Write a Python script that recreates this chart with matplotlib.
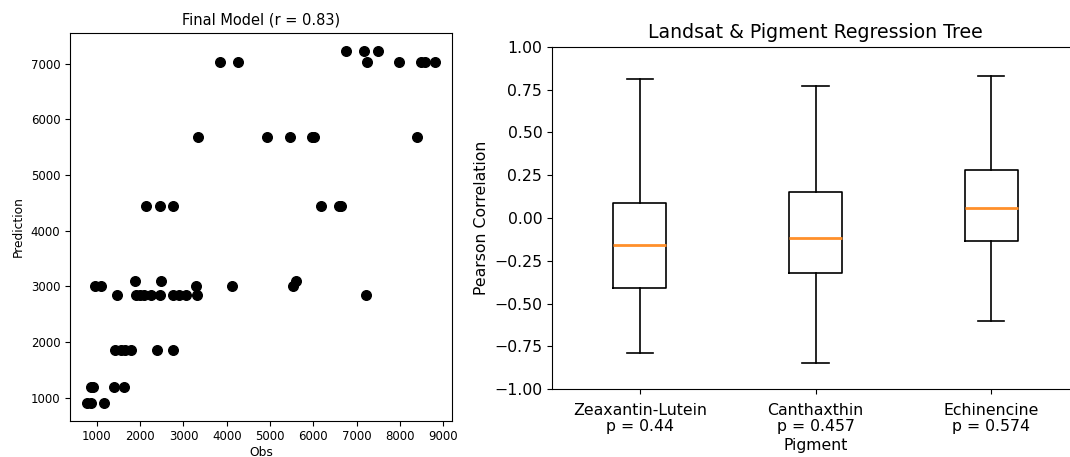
import numpy as np
import matplotlib.pyplot as plt

# observed vs. predicted values from the final regression tree
obs = [3850, 4250, 7230, 7990, 8500, 8580, 8810,
       6750, 7180, 7500,
       3340, 4940, 5470, 5970, 6010, 8390,
       2140, 2450, 2750, 6170, 6600, 6650,
       950, 1100, 3300, 4130, 5530,
       1870, 2480, 5600,
       1470, 1900, 1990, 2100, 2250, 2450, 2760, 2900, 3070, 3320, 7210,
       1430, 1550, 1660, 1780, 2390, 2770,
       870, 910, 1390, 1630,
       780, 860, 1160]
pred = [7030, 7030, 7030, 7030, 7030, 7030, 7030,
        7230, 7230, 7230,
        5690, 5690, 5690, 5690, 5690, 5690,
        4450, 4450, 4450, 4450, 4450, 4450,
        3000, 3000, 3000, 3000, 3000,
        3100, 3100, 3100,
        2850, 2850, 2850, 2850, 2850, 2850, 2850, 2850, 2850, 2850, 2850,
        1860, 1860, 1860, 1860, 1860, 1860,
        1200, 1200, 1200, 1200,
        905, 905, 905]

# pearson correlation summaries per pigment
pigments = ["Zeaxantin-Lutein", "Canthaxthin", "Echinencine"]
p_values = ["0.44", "0.457", "0.574"]
whis_lo = [-0.79, -0.845, -0.60]
q1 = [-0.41, -0.32, -0.135]
median = [-0.155, -0.115, 0.06]
q3 = [0.085, 0.15, 0.28]
whis_hi = [0.81, 0.77, 0.83]

fig = plt.figure(figsize=(10.7, 4.57), dpi=100)

# [scatter]____________________________________________________________
ax1 = fig.add_axes([0.0654, 0.0794, 0.3573, 0.8477])
ax1.scatter(obs, pred, c="black", s=48)
ax1.set_title("Final Model (r = 0.83)", fontsize=10.5)
ax1.set_xlabel("Obs", fontsize=8.8, labelpad=2)
ax1.set_ylabel("Prediction", fontsize=8.8)
ax1.set_xticks(np.arange(1000, 9001, 1000))
ax1.set_yticks(np.arange(1000, 7001, 1000))
ax1.tick_params(labelsize=8.5)

# [boxplot]____________________________________________________________
ax2 = fig.add_axes([0.5159, 0.1481, 0.4925, 0.7497])
stats = [dict(whislo=whis_lo[i], q1=q1[i], med=median[i], q3=q3[i],
              whishi=whis_hi[i], fliers=[]) for i in range(len(pigments))]
lw = 1.2
ax2.bxp(stats, positions=[1, 2, 3], widths=0.3, showfliers=False,
        boxprops=dict(linewidth=lw), whiskerprops=dict(linewidth=lw),
        capprops=dict(linewidth=lw), medianprops=dict(color="#ff8f2a", linewidth=2))
ax2.set_xlim(0.5, 3.5)
ax2.set_ylim(-1, 1)
yt = np.arange(-1, 1.01, 0.25)
ax2.set_yticks(yt)
ax2.set_yticklabels([f"{v:.2f}".replace("-", "\u2212") for v in yt])
ax2.set_xticks([1, 2, 3])
ax2.set_xticklabels([f"{n}\np = {p}" for n, p in zip(pigments, p_values)], linespacing=1.1)
ax2.tick_params(axis="y", labelsize=11.3)
ax2.tick_params(axis="x", labelsize=11.3, pad=6)
ax2.set_title("Landsat & Pigment Regression Tree", fontsize=13.6)
ax2.set_xlabel("Pigment", fontsize=11.3, labelpad=3)
ax2.set_ylabel("Pearson Correlation", fontsize=11.3)

fig.savefig("out.png", dpi=100)
